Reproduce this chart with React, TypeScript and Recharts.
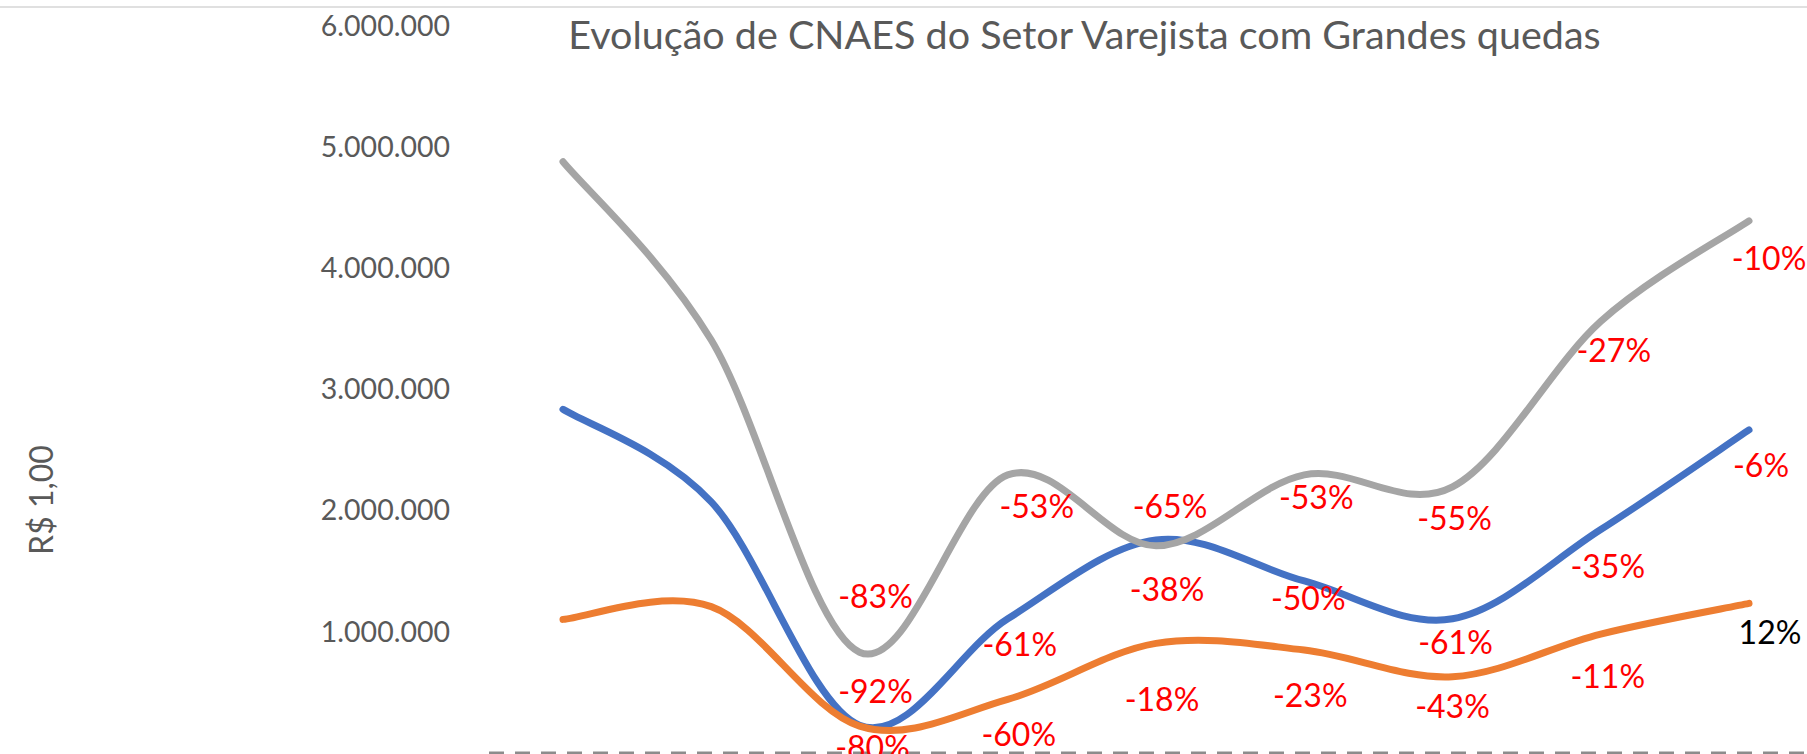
import { LineChart, Line, XAxis, YAxis, LabelList, ReferenceLine } from 'recharts'

// x categories are cut off in the source picture, so generic period names
const periodos = ['P1', 'P2', 'P3', 'P4', 'P5', 'P6', 'P7', 'P8', 'P9']
const serieAzul = [2833000, 2070000, 227000, 1105000, 1756000, 1417000, 1105000, 1841000, 2663000]
const serieLaranja = [1100000, 1205000, 220000, 440000, 902000, 847000, 627000, 979000, 1232000]
const serieCinza = [4876000, 3405000, 829000, 2292000, 1707000, 2292000, 2194000, 3559000, 4388000]
const pctAzul = ['', '', '-92%', '-61%', '-38%', '-50%', '-61%', '-35%', '-6%']
const pctLaranja = ['', '', '-80%', '-60%', '-18%', '-23%', '-43%', '-11%', '12%']
const pctCinza = ['', '', '-83%', '-53%', '-65%', '-53%', '-55%', '-27%', '-10%']
const yTicks = [1000000, 2000000, 3000000, 4000000, 5000000, 6000000]

// label placement (manual, like the excel data labels)
const nudgeAzul = [[0, 0], [0, 0], [16, -34], [12, 26], [11, 50], [4, 18], [3, 24], [7, 37], [12, 36]]
const nudgeLaranja = [[0, 0], [0, 0], [13, 21], [11, 35], [6, 56], [6, 45], [0, 30], [7, 42], [21, 29]]
const nudgeCinza = [[0, 0], [0, 0], [16, -56], [29, 32], [14, -39], [12, 23], [2, 32], [13, 29], [20, 38]]

const rows = periodos.map((p, i) => ({
  periodo: p,
  azul: serieAzul[i],
  laranja: serieLaranja[i],
  cinza: serieCinza[i],
  pctAzul: pctAzul[i],
  pctLaranja: pctLaranja[i],
  pctCinza: pctCinza[i],
}))

const FONT = 'Lato, "Open Sans", sans-serif'

const fmt = (v: number) => String(v).replace(/\B(?=(\d{3})+(?!\d))/g, '.')

// excel style smoothed line (bezier, control points at 1/6 of neighbour diff)
const excelSmooth = (context: any) => {
  let pts: number[][] = []
  return {
    areaStart() {},
    areaEnd() {},
    lineStart() {
      pts = []
    },
    point(x: number, y: number) {
      pts.push([+x, +y])
    },
    lineEnd() {
      if (!pts.length) return
      context.moveTo(pts[0][0], pts[0][1])
      for (let i = 0; i < pts.length - 1; i++) {
        const p0 = pts[i - 1] || pts[i]
        const p1 = pts[i]
        const p2 = pts[i + 1]
        const p3 = pts[i + 2] || p2
        context.bezierCurveTo(
          p1[0] + (p2[0] - p0[0]) / 6, p1[1] + (p2[1] - p0[1]) / 6,
          p2[0] - (p3[0] - p1[0]) / 6, p2[1] - (p3[1] - p1[1]) / 6,
          p2[0], p2[1]
        )
      }
    },
  }
}

const makeLabel = (nudge: number[][]) => (props: any) => {
  const { x, y, index, value } = props
  if (!value) return null
  const [dx, dy] = nudge[index] || [0, 0]
  return (
    <text
      x={x + dx}
      y={y + dy}
      dy="0.36em"
      textAnchor="middle"
      fill={String(value).startsWith('-') ? '#FF0000' : '#000000'}
      fontSize={32}
      fontFamily={FONT}
    >
      {value}
    </text>
  )
}

export default function App() {
  return (
    <div style={{ position: 'absolute', left: 0, top: 0, width: 1807, height: 754, background: '#fff', overflow: 'hidden' }}>
      <div style={{ position: 'absolute', left: 0, top: 6, width: 1807, height: 2, background: '#e0e0e0' }} />
      <div
        style={{
          position: 'absolute', left: 1084.5, top: 11, transform: 'translateX(-50%)',
          whiteSpace: 'nowrap', fontFamily: FONT, fontSize: 39.5, lineHeight: '46px', color: '#595959',
        }}
      >
        Evolução de CNAES do Setor Varejista com Grandes quedas
      </div>
      <div
        style={{
          position: 'absolute', left: 41, top: 500, transform: 'translate(-50%, -50%) rotate(-90deg)',
          whiteSpace: 'nowrap', fontFamily: FONT, fontSize: 32, lineHeight: '38px', color: '#595959',
        }}
      >
        R$ 1,00
      </div>
      <LineChart width={1807} height={754} data={rows} margin={{ top: 25.5, right: 0, bottom: 1.3, left: 0 }}>
        <XAxis dataKey="periodo" hide padding={{ left: 74, right: 58 }} />
        <YAxis
          width={489}
          domain={[0, 6000000]}
          ticks={yTicks}
          interval={0}
          tickFormatter={fmt}
          axisLine={false}
          tickLine={false}
          tickSize={0}
          tickMargin={39}
          tick={{ fill: '#595959', fontSize: 28.5, fontFamily: FONT }}
        />
        <ReferenceLine y={0} stroke="#8c8c8c" strokeWidth={2.5} strokeDasharray="15 11" />
        <Line dataKey="azul" type={excelSmooth as any} stroke="#4472C4" strokeWidth={7} strokeLinecap="round" dot={false} activeDot={false} isAnimationActive={false}>
          <LabelList dataKey="pctAzul" content={makeLabel(nudgeAzul)} />
        </Line>
        <Line dataKey="laranja" type={excelSmooth as any} stroke="#ED7D31" strokeWidth={7} strokeLinecap="round" dot={false} activeDot={false} isAnimationActive={false}>
          <LabelList dataKey="pctLaranja" content={makeLabel(nudgeLaranja)} />
        </Line>
        <Line dataKey="cinza" type={excelSmooth as any} stroke="#A5A5A5" strokeWidth={7} strokeLinecap="round" dot={false} activeDot={false} isAnimationActive={false}>
          <LabelList dataKey="pctCinza" content={makeLabel(nudgeCinza)} />
        </Line>
      </LineChart>
    </div>
  )
}
